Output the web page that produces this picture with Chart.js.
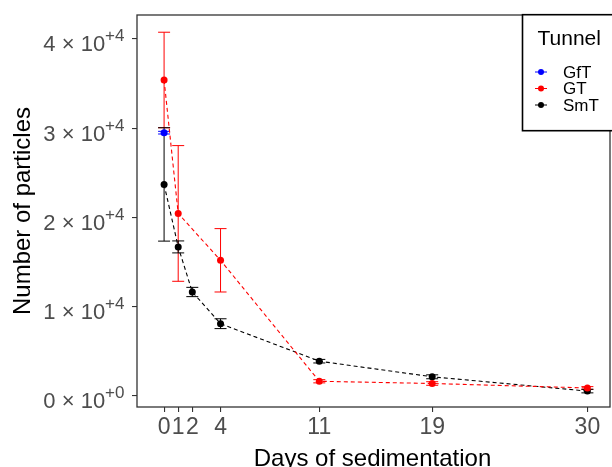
<!DOCTYPE html>
<html>
<head>
<meta charset="utf-8">
<script src="https://cdn.jsdelivr.net/npm/chart.js@4.4.0/dist/chart.umd.min.js"></script>
<style>
html, body { margin: 0; padding: 0; background: #fff; }
#wrap { width: 612px; height: 467px; }
</style>
</head>
<body>
<div id="wrap"><canvas id="sedChart" width="612" height="467"></canvas></div>
<script>
// Tick positions
const dayTicks = [0, 1, 2, 4, 11, 19, 30];
const countTicks = [0, 10000, 20000, 30000, 40000];

// Mean particle counts and standard deviations per tunnel
const gftDays = [0];
const gftMean = [29500];
const gftSd = [150];

const gtDays = [0, 1, 4, 11, 19, 30];
const gtMean = [35400, 20450, 15200, 1650, 1400, 900];
const gtSd = [5350, 7600, 3550, 180, 200, 150];

const smtDays = [0, 1, 2, 4, 11, 19, 30];
const smtMean = [23700, 16700, 11650, 8100, 3900, 2150, 550];
const smtSd = [6350, 670, 520, 550, 200, 220, 200];

const FONT = '"Liberation Sans", Arial, Helvetica, sans-serif';

function makeSeries(label, color, days, mean, sd) {
    return {
        label: label,
        data: days.map((d, i) => ({ x: d, y: mean[i] })),
        sd: sd,
        showLine: true,
        borderColor: color,
        backgroundColor: color,
        borderWidth: 1.1,
        borderDash: [4, 3],
        pointRadius: 3.5,
        pointBorderWidth: 0,
        pointBackgroundColor: color
    };
}

// Vertical error bars (mean +/- sd) with short caps, drawn under the points
const errorBars = {
    id: 'errorBars',
    beforeDatasetsDraw(chart) {
        const ctx = chart.ctx;
        const xs = chart.scales.x, ys = chart.scales.y;
        ctx.save();
        ctx.lineWidth = 1;
        chart.data.datasets.forEach(ds => {
            ctx.strokeStyle = ds.borderColor;
            ds.data.forEach((p, i) => {
                const px = xs.getPixelForValue(p.x);
                const top = ys.getPixelForValue(p.y + ds.sd[i]);
                const bot = ys.getPixelForValue(p.y - ds.sd[i]);
                ctx.beginPath();
                ctx.moveTo(px, top); ctx.lineTo(px, bot);
                ctx.moveTo(px - 6, top); ctx.lineTo(px + 6, top);
                ctx.moveTo(px - 6, bot); ctx.lineTo(px + 6, bot);
                ctx.stroke();
            });
        });
        ctx.restore();
    }
};

// Panel border, "a x 10^b" y labels and the boxed legend
const decorations = {
    id: 'decorations',
    afterDraw(chart) {
        const ctx = chart.ctx;
        const area = chart.chartArea;
        const ys = chart.scales.y;
        ctx.save();

        ctx.strokeStyle = '#333333';
        ctx.lineWidth = 1.3;
        ctx.strokeRect(area.left, area.top, area.right - area.left + 2, area.bottom - area.top);

        ctx.fillStyle = '#4D4D4D';
        ctx.textBaseline = 'alphabetic';
        countTicks.forEach(v => {
            const py = ys.getPixelForValue(v);
            const exp = v === 0 ? 0 : Math.floor(Math.log10(v));
            const mant = v === 0 ? 0 : Math.round(v / Math.pow(10, exp));
            const sup = '+' + exp;
            ctx.font = '17px ' + FONT;
            ctx.textAlign = 'right';
            const supW = ctx.measureText(sup).width;
            ctx.fillText(sup, 124.5, py + 2.5);
            ctx.font = '22px ' + FONT;
            ctx.fillText(mant + ' \u00d7 10', 124.5 - supW, py + 12.5);
        });

        // legend box
        const lx = 522.5, ly = 14.7;
        ctx.fillStyle = '#ffffff';
        ctx.fillRect(lx, ly, 100, 116);
        ctx.strokeStyle = '#000000';
        ctx.lineWidth = 1.6;
        ctx.strokeRect(lx, ly, 100, 116);

        ctx.fillStyle = '#000000';
        ctx.textAlign = 'left';
        ctx.textBaseline = 'middle';
        ctx.font = '21px ' + FONT;
        ctx.fillText('Tunnel', 537.5, 39);

        ctx.font = '17px ' + FONT;
        chart.data.datasets.forEach((ds, i) => {
            const cy = 72 + i * 16.5;
            ctx.strokeStyle = ds.borderColor;
            ctx.lineWidth = 1;
            ctx.beginPath();
            ctx.moveTo(535, cy); ctx.lineTo(547, cy);
            ctx.stroke();
            ctx.fillStyle = ds.borderColor;
            ctx.beginPath();
            ctx.arc(541, cy, 3, 0, Math.PI * 2);
            ctx.fill();
            ctx.fillStyle = '#000000';
            ctx.fillText(ds.label, 563, cy + 1);
        });
        ctx.restore();
    }
};

new Chart(document.getElementById('sedChart'), {
    type: 'scatter',
    data: {
        datasets: [
            makeSeries('GfT', '#0000FF', gftDays, gftMean, gftSd),
            makeSeries('GT', '#FF0000', gtDays, gtMean, gtSd),
            makeSeries('SmT', '#000000', smtDays, smtMean, smtSd)
        ]
    },
    options: {
        responsive: false,
        animation: false,
        devicePixelRatio: 1,
        layout: { padding: { top: 15, right: 0, left: 0, bottom: 0 } },
        plugins: {
            legend: { display: false },
            tooltip: { enabled: false }
        },
        scales: {
            x: {
                type: 'linear',
                min: -1.92,
                max: 31.46,
                afterBuildTicks: s => { s.ticks = dayTicks.map(v => ({ value: v })); },
                afterFit: s => { s.height = 60; },
                grid: { drawOnChartArea: false, drawTicks: true, tickLength: 5, color: '#333333', lineWidth: 1.1 },
                border: { display: false },
                ticks: {
                    autoSkip: false,
                    maxRotation: 0,
                    minRotation: 0,
                    padding: 2,
                    color: '#4D4D4D',
                    font: { family: FONT, size: 23 },
                    callback: v => String(v)
                },
                title: {
                    display: true,
                    text: 'Days of sedimentation',
                    color: '#000000',
                    font: { family: FONT, size: 24, lineHeight: 1 },
                    padding: { top: 0, bottom: -4 }
                }
            },
            y: {
                type: 'linear',
                min: -1233,
                max: 42680,
                afterBuildTicks: s => { s.ticks = countTicks.map(v => ({ value: v })); },
                afterFit: s => { s.width = 137; },
                grid: { drawOnChartArea: false, drawTicks: true, tickLength: 5, color: '#333333', lineWidth: 1.1 },
                border: { display: false },
                ticks: { display: false },
                title: {
                    display: true,
                    text: 'Number of particles',
                    color: '#000000',
                    font: { family: FONT, size: 24, lineHeight: 1 },
                    padding: { top: 11, bottom: 0 }
                }
            }
        }
    },
    plugins: [errorBars, decorations]
});
</script>
</body>
</html>
